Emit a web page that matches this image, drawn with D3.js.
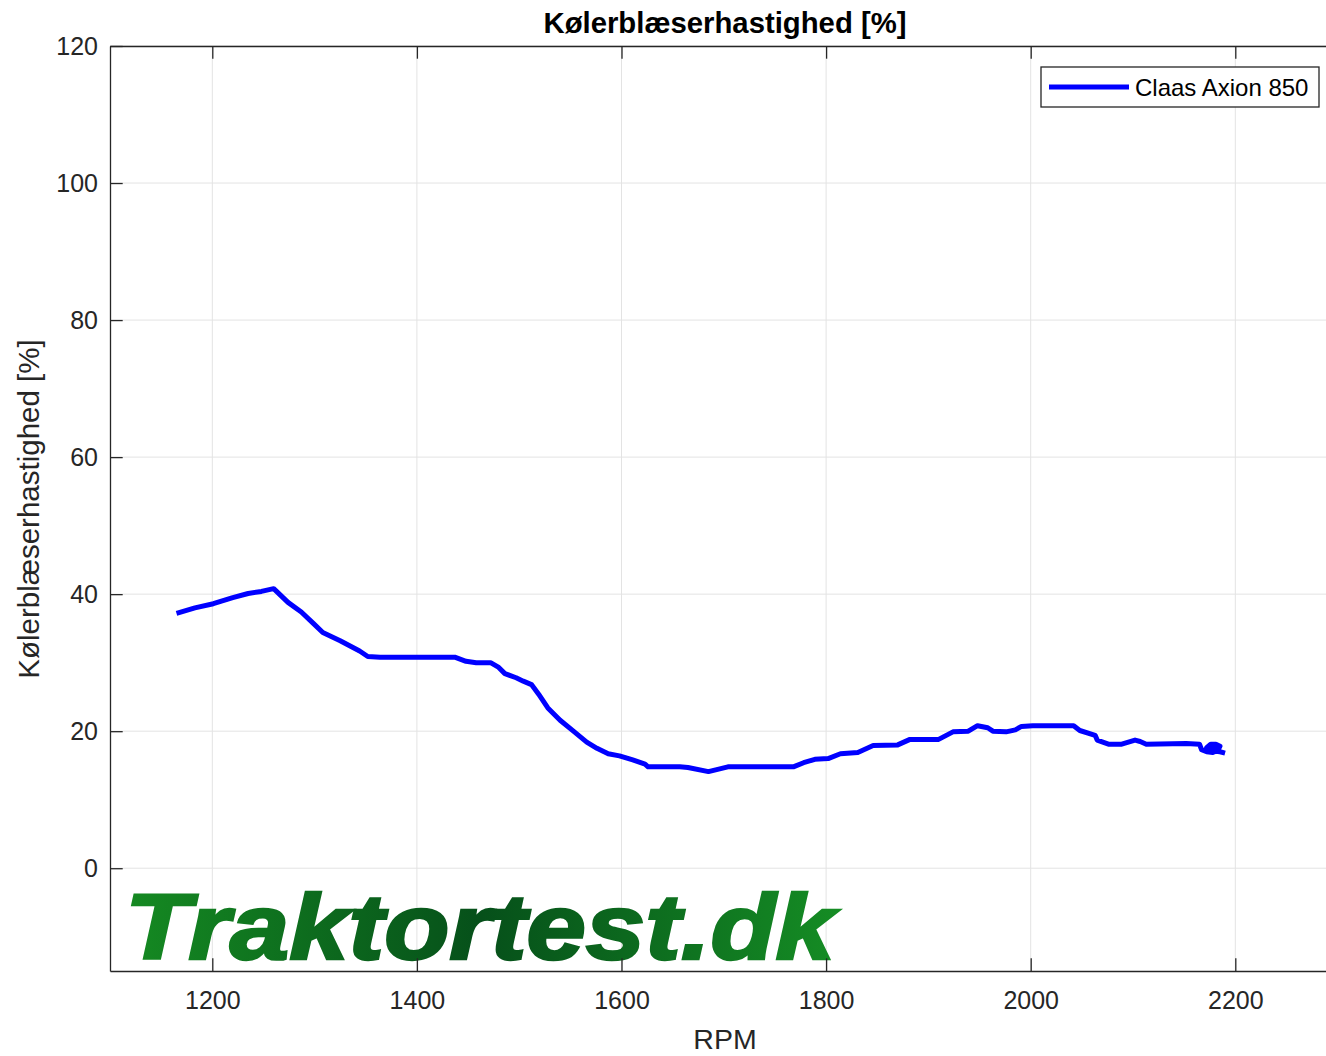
<!DOCTYPE html>
<html>
<head>
<meta charset="utf-8">
<script src="https://cdn.jsdelivr.net/npm/d3@7"></script>
<style>
  body { margin: 0; background: #fff; }
  svg text { font-family: "Liberation Sans", Arial, sans-serif; }
</style>
</head>
<body>
<div id="chart"></div>
<script>
var w = 1326;
var h = 1056;

// data
var seriesName = "Claas Axion 850";
var rpm = [1165, 1183, 1201, 1220, 1235, 1248, 1260, 1274, 1287, 1299, 1308, 1325, 1344, 1352, 1364,
  1437, 1448, 1458, 1472, 1480, 1486, 1497, 1504, 1512, 1519, 1528, 1540, 1553, 1566, 1576, 1587,
  1598, 1611, 1623, 1626, 1657, 1665, 1685, 1704, 1768, 1778, 1789, 1802, 1814, 1831, 1846, 1870,
  1882, 1910, 1924, 1939, 1948, 1958, 1963, 1976, 1985, 1991, 2002, 2042, 2048, 2063, 2065, 2076,
  2089, 2102, 2107, 2113, 2152, 2165, 2167, 2172, 2178, 2183, 2185, 2181, 2176, 2172, 2174, 2180,
  2184, 2179, 2175, 2178, 2185, 2190];
var fan = [37.2, 38.0, 38.6, 39.5, 40.1, 40.4, 40.8, 38.8, 37.4, 35.7, 34.4, 33.2, 31.7, 30.9, 30.8,
  30.8, 30.2, 30.0, 30.0, 29.3, 28.4, 27.8, 27.3, 26.8, 25.4, 23.4, 21.6, 20.0, 18.4, 17.5, 16.7,
  16.4, 15.8, 15.2, 14.8, 14.8, 14.7, 14.1, 14.8, 14.8, 15.4, 15.9, 16.0, 16.7, 16.9, 17.9, 18.0,
  18.8, 18.8, 19.9, 20.0, 20.8, 20.5, 20.0, 19.9, 20.2, 20.7, 20.8, 20.8, 20.1, 19.4, 18.7, 18.1,
  18.1, 18.7, 18.5, 18.1, 18.2, 18.1, 17.3, 17.0, 16.9, 17.2, 17.8, 18.1, 18.1, 17.6, 17.2, 17.3,
  17.6, 17.8, 17.5, 17.1, 17.0, 16.8];
var xTicks = [1200, 1400, 1600, 1800, 2000, 2200];
var yTicks = [0, 20, 40, 60, 80, 100, 120];
var xDomain = [1100, 2300];
var yDomain = [-15, 120];
var titleText = "Kølerblæserhastighed [%]";
var yLabel = "Kølerblæserhastighed [%]";
var xLabel = "RPM";
var watermark = "Traktortest.dk";

var mLeft = 110, mTop = 46, mBottom = 971;
var mRight = mLeft + (xDomain[1] - xDomain[0]) * 1.023;

var svg = d3.select("#chart")
  .append("svg")
  .attr("width", w)
  .attr("height", h);

var x = d3.scaleLinear().domain(xDomain).range([mLeft, mRight]);
var y = d3.scaleLinear().domain(yDomain).range([mBottom, mTop]);

var axisCol = "#262626";
var gridCol = "#e3e3e3";

// grid
svg.append("g").selectAll("line")
  .data(xTicks).enter().append("line")
  .attr("x1", function(d) { return x(d); }).attr("x2", function(d) { return x(d); })
  .attr("y1", mTop).attr("y2", mBottom)
  .attr("stroke", gridCol).attr("stroke-width", 1);
svg.append("g").selectAll("line")
  .data(yTicks).enter().append("line")
  .attr("x1", mLeft).attr("x2", mRight)
  .attr("y1", function(d) { return y(d); }).attr("y2", function(d) { return y(d); })
  .attr("stroke", gridCol).attr("stroke-width", 1);

// watermark
var grad = svg.append("defs").append("linearGradient")
  .attr("id", "wm").attr("gradientUnits", "userSpaceOnUse")
  .attr("x1", 125).attr("x2", 838).attr("y1", 0).attr("y2", 0);
grad.append("stop").attr("offset", "0%").attr("stop-color", "#158a22");
grad.append("stop").attr("offset", "50%").attr("stop-color", "#06501a");
grad.append("stop").attr("offset", "100%").attr("stop-color", "#158c24");

svg.append("text")
  .attr("x", 125).attr("y", 959)
  .attr("font-size", 92).attr("font-weight", "bold").attr("font-style", "italic")
  .attr("textLength", 710).attr("lengthAdjust", "spacingAndGlyphs")
  .attr("fill", "url(#wm)")
  .attr("stroke", "url(#wm)").attr("stroke-width", 2.5)
  .text(watermark);

// axes
var fmt = d3.format("d");
var xAxisB = d3.axisBottom(x).tickValues(xTicks).tickFormat(fmt).tickSizeInner(-12.7).tickSizeOuter(0);
var xAxisT = d3.axisTop(x).tickValues(xTicks).tickSizeInner(-12.7).tickSizeOuter(0).tickFormat("");
var yAxisL = d3.axisLeft(y).tickValues(yTicks).tickFormat(fmt).tickSizeInner(-12.7).tickSizeOuter(0);

function styleAxis(g) {
  g.select(".domain").attr("stroke", axisCol).attr("stroke-width", 1.3);
  g.selectAll(".tick line").attr("stroke", axisCol).attr("stroke-width", 1.3);
  g.selectAll(".tick text").attr("fill", axisCol).attr("font-size", 25)
    .attr("font-family", "Liberation Sans, Arial, sans-serif");
}

svg.append("g").attr("transform", "translate(0," + mBottom + ")").call(xAxisB).call(styleAxis)
  .selectAll(".tick text").attr("dy", null).attr("y", 38);
svg.append("g").attr("transform", "translate(0," + mTop + ")").call(xAxisT).call(styleAxis);
svg.append("g").attr("transform", "translate(" + mLeft + ",0)").call(yAxisL).call(styleAxis)
  .selectAll(".tick text").attr("x", -12);

// line
var pts = rpm.map(function(d, i) { return [d, fan[i]]; });
var line = d3.line().x(function(d) { return x(d[0]); }).y(function(d) { return y(d[1]); });
svg.append("path")
  .datum(pts)
  .attr("d", line)
  .attr("fill", "none")
  .attr("stroke", "#0000ff")
  .attr("stroke-width", 5)
  .attr("stroke-linejoin", "round");

// title and labels
svg.append("text")
  .attr("x", 725).attr("y", 33)
  .attr("text-anchor", "middle")
  .attr("font-size", 29.3).attr("font-weight", "bold").attr("fill", "#000")
  .text(titleText);

svg.append("text")
  .attr("x", 725).attr("y", 1049)
  .attr("text-anchor", "middle")
  .attr("font-size", 28.5).attr("fill", axisCol)
  .text(xLabel);

svg.append("text")
  .attr("transform", "translate(39,509) rotate(-90)")
  .attr("text-anchor", "middle")
  .attr("font-size", 29.5).attr("fill", axisCol)
  .text(yLabel);

// legend
var lg = svg.append("g");
lg.append("rect")
  .attr("x", 1041).attr("y", 67).attr("width", 278).attr("height", 40)
  .attr("fill", "#fff").attr("stroke", axisCol).attr("stroke-width", 1.3);
lg.append("line")
  .attr("x1", 1049).attr("x2", 1129).attr("y1", 87).attr("y2", 87)
  .attr("stroke", "#0000ff").attr("stroke-width", 5);
lg.append("text")
  .attr("x", 1135).attr("y", 95.5)
  .attr("font-size", 24).attr("fill", "#000")
  .text(seriesName);
</script>
</body>
</html>
